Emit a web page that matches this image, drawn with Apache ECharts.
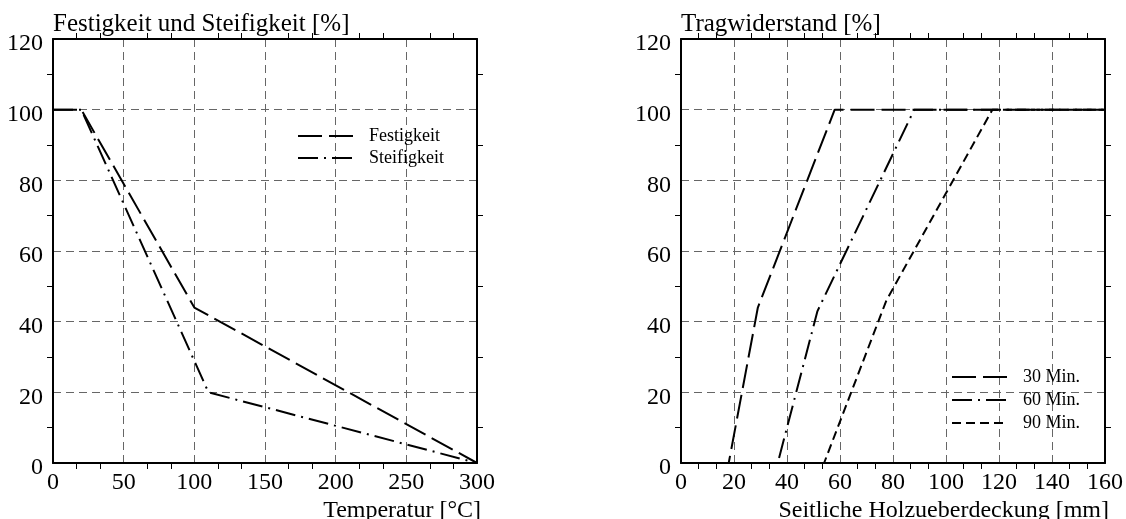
<!DOCTYPE html>
<html>
<head>
<meta charset="utf-8">
<script src="https://cdn.jsdelivr.net/npm/echarts@6/dist/echarts.min.js"></script>
<style>html,body{margin:0;padding:0;background:#fff;}#c{width:1126px;height:519px;}</style>
</head>
<body>
<div id="c"></div>
<script>
// ---- Data (left chart) ----
const leftTitle = 'Festigkeit und Steifigkeit [%]';
const leftXName = 'Temperatur [°C]';
const festigkeitT = [0, 20, 100, 300];
const festigkeitPct = [100, 100, 44, 0];
const steifigkeitT = [0, 20, 110, 300];
const steifigkeitPct = [100, 100, 20, 0];

// ---- Data (right chart) ----
const rightTitle = 'Tragwiderstand [%]';
const rightXName = 'Seitliche Holzueberdeckung [mm]';
const min30X = [0, 18, 29, 58, 160];
const min30Y = [0, 0, 44, 100, 100];
const min60X = [0, 36.5, 51.5, 88, 160];
const min60Y = [0, 0, 43, 100, 100];
const min90X = [0, 54, 77.5, 117.5, 160];
const min90Y = [0, 0, 46, 100, 100];
const seriesNamesLeft = ['Festigkeit', 'Steifigkeit'];
const seriesNamesRight = ['30 Min.', '60 Min.', '90 Min.'];

const zip = (xs, ys) => xs.map((x, i) => [x, ys[i]]);
const FONT = "'Liberation Serif', 'Times New Roman', serif";

const longDash = [24, 7];
const dashDot = [20, 6, 2, 6];
const shortDash = [9, 5];

function xAxes(gridIndex, max, interval, name) {
  return [
    {
      type: 'value', gridIndex, min: 0, max, interval, position: 'bottom',
      name, nameLocation: 'end', nameGap: 4, nameMoveOverlap: false,
      nameTextStyle: {fontFamily: FONT, fontSize: 24, color: '#000', align: 'right', verticalAlign: 'top', padding: [36, 0, 0, 0]},
      axisLine: {show: true, onZero: false, lineStyle: {color: '#000', width: 2}},
      axisTick: {show: false},
      minorTick: {show: true, splitNumber: 3, length: 6, lineStyle: {color: '#000', width: 1}},
      axisLabel: {fontFamily: FONT, fontSize: 24, color: '#000', margin: 8, showMinLabel: true, showMaxLabel: true, hideOverlap: false},
      splitLine: {show: true, lineStyle: {color: '#666', width: 1, type: [8, 5]}}
    },
    {
      type: 'value', gridIndex, min: 0, max, interval, position: 'top',
      axisLine: {show: true, onZero: false, lineStyle: {color: '#000', width: 2}},
      axisTick: {show: false},
      minorTick: {show: true, splitNumber: 3, length: 6, lineStyle: {color: '#000', width: 1}},
      axisLabel: {show: false},
      splitLine: {show: false}
    }
  ];
}
function yAxes(gridIndex) {
  return [
    {
      type: 'value', gridIndex, min: 0, max: 120, interval: 20, position: 'left',
      axisLine: {show: true, onZero: false, lineStyle: {color: '#000', width: 2}},
      axisTick: {show: false},
      minorTick: {show: true, splitNumber: 2, length: 6, lineStyle: {color: '#000', width: 1}},
      axisLabel: {
        fontFamily: FONT, fontSize: 24, color: '#000', margin: 10,
        formatter: '{a|{value}}',
        rich: {a: {fontFamily: FONT, fontSize: 24, color: '#000', padding: [10, 0, 0, 0]}}
      },
      splitLine: {show: true, lineStyle: {color: '#666', width: 1, type: [8, 5]}}
    },
    {
      type: 'value', gridIndex, min: 0, max: 120, interval: 20, position: 'right',
      axisLine: {show: true, onZero: false, lineStyle: {color: '#000', width: 2}},
      axisTick: {show: false},
      minorTick: {show: true, splitNumber: 2, length: 6, lineStyle: {color: '#000', width: 1}},
      axisLabel: {show: false},
      splitLine: {show: false}
    }
  ];
}

function lineSeries(name, data, xi, yi, dash) {
  return {
    name, type: 'line', xAxisIndex: xi, yAxisIndex: yi, data,
    symbol: 'none', showSymbol: false, animation: false,
    lineStyle: {color: '#000', width: 2, type: dash},
    itemStyle: {color: '#000'}
  };
}

const legendCommon = {
  orient: 'vertical', itemWidth: 56, itemHeight: 2, itemGap: 4, padding: 0,
  textStyle: {fontFamily: FONT, fontSize: 18, color: '#000', padding: [0, 0, 0, 10]},
  itemStyle: {color: 'transparent', borderWidth: 0},
  selectedMode: false
};

const gridCommon = {outerBoundsMode: 'none', containLabel: false};

const option = {
  animation: false,
  backgroundColor: '#fff',
  title: [
    {text: leftTitle, left: 53, top: 12, padding: 0, textStyle: {fontFamily: FONT, fontSize: 25, fontWeight: 'normal', color: '#000'}},
    {text: rightTitle, left: 681, top: 12, padding: 0, textStyle: {fontFamily: FONT, fontSize: 25, fontWeight: 'normal', color: '#000'}}
  ],
  legend: [
    Object.assign({}, legendCommon, {data: seriesNamesLeft, left: 297, top: 127}),
    Object.assign({}, legendCommon, {data: seriesNamesRight, left: 951, top: 368, itemGap: 5})
  ],
  grid: [
    Object.assign({left: 53, top: 39, width: 424, height: 424}, gridCommon),
    Object.assign({left: 681, top: 39, width: 424, height: 424}, gridCommon)
  ],
  xAxis: [].concat(xAxes(0, 300, 50, leftXName), xAxes(1, 160, 20, rightXName)),
  yAxis: [].concat(yAxes(0), yAxes(1)),
  series: [
    lineSeries(seriesNamesLeft[0], zip(festigkeitT, festigkeitPct), 0, 0, longDash),
    lineSeries(seriesNamesLeft[1], zip(steifigkeitT, steifigkeitPct), 0, 0, dashDot),
    lineSeries(seriesNamesRight[0], zip(min30X, min30Y), 2, 2, longDash),
    lineSeries(seriesNamesRight[1], zip(min60X, min60Y), 2, 2, dashDot),
    lineSeries(seriesNamesRight[2], zip(min90X, min90Y), 2, 2, shortDash)
  ]
};
const chart = echarts.init(document.getElementById('c'), null, {renderer: 'canvas'});
chart.setOption(option);
</script>
</body>
</html>
